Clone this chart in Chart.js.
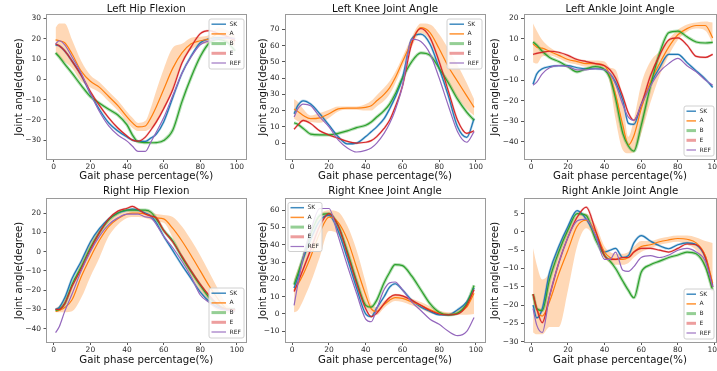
<!DOCTYPE html>
<html><head><meta charset="utf-8">
<script src="https://cdn.jsdelivr.net/npm/chart.js@4/dist/chart.umd.min.js"></script>
<style>
html,body{margin:0;padding:0;background:#fff;}
#wrap{position:relative;width:717px;height:371px;overflow:hidden;background:#fff;}
#wrap canvas{position:absolute;}
</style></head><body><div id="wrap"></div>
<script>
// ---- data ----
const phase = [1,3,6,10,15,20,25,30,35,40,43,46,50,53,56,60,65,70,75,80,85,90,95,99];
const xTicks = [0,20,40,60,80,100];
const seriesNames = ['SK','A','B','E','REF'];

// Left Hip Flexion
const lhYTicks = [-30,-20,-10,0,10,20,30];
const lhSK  = [17,16.5,14,9,2,-7,-15,-21.5,-25.5,-28.5,-30,-30.5,-30.6,-29,-27,-21,-9,3,11.5,18,20,20.5,20.5,20];
const lhA   = [19.4,19,18,12.5,4,-1,-4,-8.5,-13,-18.5,-21.5,-23.5,-23,-19,-13.5,-5,5.5,13,17.5,19,20,22.5,21,19];
const lhB   = [13,11,7.5,3,-3,-8.5,-11.8,-14.8,-17.6,-22.5,-27.5,-30.8,-31.2,-31.3,-31.2,-30.2,-25,-11,1,11.2,18,19.7,18,14];
const lhE   = [17.5,16.5,14,9,2,-6,-13,-19,-24,-28,-30,-30.5,-28.5,-25,-21,-14.5,-5,8,16,22.5,24,22.5,21,19];
const lhREF = [17.5,19,17,11,3,-7,-16,-23,-27.5,-30.5,-33,-35.5,-35.5,-31,-26,-19,-8,3,11,17,19,20,20.5,20];
const lhALow  = [13.4,10.5,8.5,5.5,-1,-4,-6.5,-11,-15.5,-21,-24,-25.5,-25.5,-24,-21.5,-15,-4.5,8.5,14.5,17,18,19.5,18,16];
const lhAHigh = [25.4,27.5,27.5,19.5,9,2,-1.5,-6,-10.5,-16,-19,-21.5,-20.5,-14,-5.5,5,15.5,17.5,20.5,21,22,25.5,24,22];

// Left Knee Joint Angle
const lkYTicks = [0,10,20,30,40,50,60,70];
const lkSK  = [18,23,26,24,18,11,4,-0.5,0,4,7,10,15,21,28,40,64,67,61,46,29,10,3.5,15];
const lkA   = [21,19.5,17,15,15.5,18,21,21.5,21.5,22,23,26,30,34,40,50,62,71,68,58,47,38,29,22];
const lkB   = [12.5,11.5,9,5.5,5,5,6,7.5,9.5,11,13,16,20,24,30,40,50,55.5,54,46,37,27,19,14];
const lkE   = [8.5,11,14,12,7.5,5,3,1,0,0.5,1.5,4,9,14,22,35,61,70.5,65,50,32,14,6,7.5];
const lkREF = [16,21,24,23,16,10,2,-3,-5.5,-4.5,-3,0,6,12,20,35,64,62.5,55,40,23,7,0.5,7];
const lkALow  = [15,13.5,13,13,12.5,15.5,19.5,20.5,20.5,20,20,22.5,26,30,36.5,47,59,67.5,63,49,36,28,21,17];
const lkAHigh = [27,25.5,21,17,18.5,20.5,22.5,22.5,22.5,24,26,29.5,34,38,43.5,53,65,73.5,73,67,58,48,37,27];

// Left Ankle Joint Angle
const laYTicks = [-40,-30,-20,-10,0,10,20];
const laSK  = [-12,-7,-4.5,-3.5,-3,-3,-4,-4.5,-4.5,-5,-7,-11,-20,-31,-31.5,-22,-12,-4,2.5,2.5,-1.5,-5.5,-9.5,-13.5];
const laA   = [7.5,6,5.5,4,2,0,-1,-2,-2,-3,-8,-17,-32,-41.5,-37,-24,-11,-2,6,12,15,16.5,16.5,10.5];
const laB   = [8.5,7,4,1,-1,-3.5,-6,-4.5,-3.5,-5,-9,-19,-36,-42,-44.5,-32,-13,3,13,13.8,11,8.5,8,8.3];
const laE   = [2.5,3,3.5,4,3.5,2,0,-1,-2,-3,-5,-9,-18,-26,-29.5,-22,-8,2,9.5,10.5,7,1.5,1,2.5];
const laREF = [-12.5,-11,-7,-4,-3,-3.5,-5,-5,-4.5,-5,-7,-12,-22,-28,-29.5,-22,-13,-6,-2,0.5,-3,-6,-10,-12.5];
const laALow  = [-1.5,-2,1.5,2,0.5,-1.5,-2.5,-3.5,-3.5,-5,-12,-29,-44,-45.5,-45,-36,-21,-8,2,9.5,13.5,15,14,8];
const laAHigh = [17.5,14,9.5,6,3.5,1.5,0.5,-0.5,-0.5,-1,-4,-5,-20,-37.5,-29,-12,-1,4,10,14.5,17,18,18.5,18];

// Right Hip Flexion
const rhYTicks = [-40,-30,-20,-10,0,10,20];
const rhSK  = [-30,-29,-24,-14,-5,5,12,17,20,21.5,22,21.5,20,18.5,15,8,0.5,-7,-14,-21,-26,-29,-30,-30];
const rhA   = [-31,-30.5,-29,-25,-13,-3,6,13,17,19.5,20,20,19.5,18.5,17.5,17,12,5.5,-2,-10,-18,-25,-30,-30.5];
const rhB   = [-30.5,-30,-27,-17,-8,2,10,16.5,20,21.5,21.5,21.5,21.5,20.5,17,11,5.5,-3,-10.5,-17.5,-24,-28,-30,-30];
const rhE   = [-30,-30,-27,-18,-9,1,10,17,21,22.5,23.5,22,19.5,18.5,17.5,11,5,-2.5,-10,-17,-23,-28,-30,-30];
const rhREF = [-42,-39,-31,-22,-10,0,8,14,17.5,19.5,19.5,19.5,18,17.5,14,8,2,-5,-13,-22.5,-26.5,-29.5,-30.5,-31];
const rhALow  = [-31.5,-31.5,-31.5,-31,-24,-13,-3,8,14,17.5,18,18,17.5,16.5,15.5,15,7,-4,-13,-21,-27,-31,-32,-31.5];
const rhAHigh = [-29.5,-28,-24,-18,-5,5,12,17,19.5,21,22,22,21.5,20.5,19.5,19,18,13,6,-2,-11,-20,-28,-29.5];

// Right Knee Joint Angle
const rkYTicks = [-10,0,10,20,30,40,50,60];
const rkSK  = [15,21,32,43,54,57,48,32,15,0,-1.5,3.5,10,15.5,17.5,14,8,4,1.5,-0.5,-0.5,2.5,7,15];
const rkA   = [14,17,23,33,47,56,53,43,27,11,3,1.5,5.5,8,9.5,9,7,5,2.5,0.5,-0.3,0.5,4,12];
const rkB   = [17,23,33,46,57,58,51,36,19,5,4,8,18,24,28.5,28,22,14,6,1,-0.5,0.5,6,16.5];
const rkE   = [13,18,26,37,51,58,51,35,18,3,-1.5,0.5,6,9.5,11,10.5,8,5,2,0,-0.5,0,5,14];
const rkREF = [5,17,33,48,61,61,45,28,12,-3,-4.5,3,14,18,18.5,14,7,2,-3,-6,-10,-12.5,-10,-2];
const rkALow  = [1,2,8,18,33,48,46,33,16,4,0,-0.5,3.5,6,7.5,7,5,3,0.5,-0.5,-0.5,-0.5,-0.5,0];
const rkAHigh = [20,26,34,44,57,60,59,51,37,18,6,4,7.5,10,11.5,11,9,7,4.5,2,1,2.5,8,16];

// Right Ankle Joint Angle
const raYTicks = [-30,-25,-20,-15,-10,-5,0,5];
const raSK  = [-20,-23.5,-21,-11,-4,1.5,5.8,3.5,-1,-5.5,-5,-4.5,-7,-6.5,-3,-1,-2.5,-3.8,-4.6,-3.5,-3,-3.5,-7,-15];
const raA   = [-17,-21,-23,-19,-11.5,-5,1.5,3.2,0,-5.5,-7,-7.5,-7.5,-7,-5.5,-4,-3.5,-2.7,-2.2,-1.8,-2,-3,-6.5,-14];
const raB   = [-17,-21,-21.5,-13,-5.5,0.5,5,4.5,-2,-6.5,-8,-10,-13.5,-16,-18,-11,-9,-8,-7,-6.3,-5.5,-6,-9.5,-16];
const raE   = [-17,-21,-24.8,-17.5,-8.5,-1.5,4,6.8,0.5,-6.5,-7.5,-7.5,-7,-7,-5.5,-4.5,-4.5,-5,-5.5,-4.5,-3.3,-3.5,-7,-15];
const raREF = [-21,-25.5,-27.5,-17.5,-8.5,-1.5,3,3.5,-1,-7.5,-7.5,-5.5,-10.5,-10.8,-9.5,-7,-6.5,-7,-6.3,-5,-4.5,-5.5,-8,-15];
const raALow  = [-27.5,-28,-28,-26,-26,-16,-4,1,-2,-7,-8.5,-9,-9,-8.5,-7,-5.5,-4.5,-3.5,-3,-2.7,-3.5,-5,-10,-17];
const raAHigh = [-4.5,-9,-13,-11,-4,1.5,4.5,5,2,-4,-5.5,-6,-6,-5.5,-4,-2.5,-2.5,-1.8,-1.3,-1,-1,-1.5,-2.5,-3];

// ---- styling / layout ----
const FF = '"DejaVu Sans", "Liberation Sans", sans-serif';
const COLORS = {SK:'#1f77b4', A:'#ff7f0e', B:'#2ca02c', E:'#d62728', REF:'#9467bd'};
const HALO = {SK:{w:2.4,a:0.3}, B:{w:3.2,a:0.35}, E:{w:2.2,a:0.25}};
const LEGSTYLE = {SK:{w:1.5,a:0.85}, A:{w:1.5,a:0.85}, B:{w:3,a:0.5}, E:{w:3,a:0.45}, REF:{w:1.2,a:0.9}};
function rgba(hex,a){const n=parseInt(hex.slice(1),16);return `rgba(${n>>16},${(n>>8)&255},${n&255},${a})`;}
const fmt = v => v < 0 ? '\u2212' + Math.abs(v) : String(v);

const panels = [
 {title:'Left Hip Flexion', cx:0, cy:0, cw:248, ch:185, yw:46.5, xh:26, padR:2, xmax:104.95, ymin:-39.3, ymax:31.7, yTicks:lhYTicks,
  s:{SK:lhSK,A:lhA,B:lhB,E:lhE,REF:lhREF}, lo:lhALow, hi:lhAHigh, tT:2.76, tB:0, xtP:2.4, ytP:12.9, leg:{x:209,y:19,w:35,h:50}},
 {title:'Left Knee Joint Angle', cx:248, cy:0, cw:240, ch:185, yw:37, xh:26, padR:3, xmax:104.95, ymin:-9.8, ymax:78.8, yTicks:lkYTicks,
  s:{SK:lkSK,A:lkA,B:lkB,E:lkE,REF:lkREF}, lo:lkALow, hi:lkAHigh, tT:2.76, tB:0, xtP:2.4, ytP:9.6, leg:{x:447,y:19,w:35,h:50}},
 {title:'Left Ankle Joint Angle', cx:487, cy:0, cw:230, ch:185, yw:37, xh:26, padR:1, xmax:100.8, ymin:-48.3, ymax:21.6, yTicks:laYTicks,
  s:{SK:laSK,A:laA,B:laB,E:laE,REF:laREF}, lo:laALow, hi:laAHigh, tT:2.76, tB:0, xtP:2.4, ytP:2.6, leg:{x:684,y:106,w:30,h:50}},
 {title:'Right Hip Flexion', cx:0, cy:185, cw:248, ch:186, yw:46.5, xh:29, padR:2, xmax:104.95, ymin:-46.9, ymax:27.3, yTicks:rhYTicks,
  s:{SK:rhSK,A:rhA,B:rhB,E:rhE,REF:rhREF}, lo:rhALow, hi:rhAHigh, tT:0.2, tB:1.56, xtP:4.6, ytP:12.9, leg:{x:209,y:288,w:35,h:50}},
 {title:'Right Knee Joint Angle', cx:248, cy:185, cw:240, ch:186, yw:37, xh:29, padR:3, xmax:104.95, ymin:-16.2, ymax:66.5, yTicks:rkYTicks,
  s:{SK:rkSK,A:rkA,B:rkB,E:rkE,REF:rkREF}, lo:rkALow, hi:rkAHigh, tT:0.2, tB:1.56, xtP:4.6, ytP:9.6, leg:{x:288,y:202.5,w:34,h:49}},
 {title:'Right Ankle Joint Angle', cx:487, cy:185, cw:230, ch:186, yw:37, xh:29, padR:1, xmax:100.8, ymin:-30.1, ymax:9.0, yTicks:raYTicks,
  s:{SK:raSK,A:raA,B:raB,E:raE,REF:raREF}, lo:raALow, hi:raAHigh, tT:0.2, tB:1.56, xtP:4.6, ytP:2.6, leg:{x:684,y:289,w:30,h:50}}
];

const framePlugin = {
  id:'frame',
  afterDatasetsDraw(chart){
    const {ctx, chartArea:a} = chart;
    ctx.save();
    ctx.strokeStyle = '#9a9a9a'; ctx.lineWidth = 1;
    const l = Math.floor(a.left)+0.5, t = Math.floor(a.top)+0.5;
    const r = Math.floor(a.right)+0.5, b = Math.floor(a.bottom)+0.5;
    ctx.strokeRect(l, t, r-l, b-t);
    ctx.restore();
  }
};

const legendPlugin = {
  id:'mplLegend',
  afterDraw(chart, args, o){
    if(!o || !o.rect) return;
    const ctx = chart.ctx, L = o.rect;
    const x = L.x - o.ox, y = L.y - o.oy;
    ctx.save();
    ctx.beginPath();
    const r = 2;
    ctx.moveTo(x+r, y); ctx.lineTo(x+L.w-r, y); ctx.quadraticCurveTo(x+L.w, y, x+L.w, y+r);
    ctx.lineTo(x+L.w, y+L.h-r); ctx.quadraticCurveTo(x+L.w, y+L.h, x+L.w-r, y+L.h);
    ctx.lineTo(x+r, y+L.h); ctx.quadraticCurveTo(x, y+L.h, x, y+L.h-r);
    ctx.lineTo(x, y+r); ctx.quadraticCurveTo(x, y, x+r, y); ctx.closePath();
    ctx.fillStyle = 'rgba(255,255,255,0.85)'; ctx.fill();
    ctx.strokeStyle = '#d0d0d0'; ctx.lineWidth = 1; ctx.stroke();
    const tx = x + L.w - 14.5;
    ctx.font = '6px ' + FF; ctx.textBaseline = 'middle'; ctx.textAlign = 'left';
    seriesNames.forEach((nm, i) => {
      const cyy = y + 5.2 + i*9.7;
      const st = LEGSTYLE[nm];
      ctx.strokeStyle = rgba(COLORS[nm], st.a); ctx.lineWidth = st.w;
      ctx.beginPath(); ctx.moveTo(x+2.5, cyy); ctx.lineTo(tx-3.5, cyy); ctx.stroke();
      ctx.fillStyle = '#262626'; ctx.fillText(nm, tx, cyy);
    });
    ctx.restore();
  }
};

const wrap = document.getElementById('wrap');
const pts = arr => phase.map((x,i) => ({x, y: arr[i]}));

panels.forEach(p => {
  const cv = document.createElement('canvas');
  cv.width = p.cw; cv.height = p.ch;
  cv.style.left = p.cx+'px'; cv.style.top = p.cy+'px';
  cv.style.width = p.cw+'px'; cv.style.height = p.ch+'px';
  wrap.appendChild(cv);
  const base = {pointRadius:0, pointHoverRadius:0, cubicInterpolationMode:'monotone', fill:false};
  const ds = [];
  ds.push(Object.assign({}, base, {label:'A upper', data:pts(p.hi), borderColor:'rgba(0,0,0,0)', borderWidth:0.01,
    fill:'+1', backgroundColor:'rgba(255,127,14,0.3)', order:30}));
  ds.push(Object.assign({}, base, {label:'A lower', data:pts(p.lo), borderColor:'rgba(0,0,0,0)', borderWidth:0.01, order:31}));
  ['SK','B','E'].forEach((nm, k) => {
    ds.push(Object.assign({}, base, {label:nm+' spread', data:pts(p.s[nm]), borderColor:rgba(COLORS[nm], HALO[nm].a),
      borderWidth:HALO[nm].w, order:20+k}));
  });
  seriesNames.forEach((nm, k) => {
    ds.push(Object.assign({}, base, {label:nm, data:pts(p.s[nm]), borderColor:COLORS[nm], borderWidth:1.2, order:5-k}));
  });
  new Chart(cv, {
    type:'line',
    data:{datasets:ds},
    options:{
      responsive:false, maintainAspectRatio:false, animation:false, devicePixelRatio:1,
      events:[],
      layout:{padding:{left:0, top:0, right:p.padR, bottom:0}},
      plugins:{
        legend:{display:false}, tooltip:{enabled:false},
        title:{display:true, text:p.title, fullSize:false, color:'#111',
          font:{family:FF, size:10.2, weight:'normal', lineHeight:1.2}, padding:{top:p.tT, bottom:p.tB}},
        mplLegend:{rect:p.leg, ox:p.cx, oy:p.cy}
      },
      scales:{
        x:{type:'linear', min:-3.95, max:p.xmax,
          afterBuildTicks: s => { s.ticks = xTicks.map(v => ({value:v})); },
          afterFit: s => { s.height = p.xh; s.paddingLeft = 0; s.paddingRight = 0; },
          ticks:{autoSkip:false, maxRotation:0, minRotation:0, padding:0.3, color:'#2a2a2a', font:{family:FF, size:7.5, lineHeight:1.2}, callback: v => fmt(v)},
          grid:{display:true, drawOnChartArea:false, drawTicks:true, tickLength:3, color:'#555'},
          border:{display:false},
          title:{display:true, text:'Gait phase percentage(%)', color:'#111', font:{family:FF, size:10.2, lineHeight:1.2}, padding:{top:0, bottom:p.xtP}}
        },
        y:{type:'linear', min:p.ymin, max:p.ymax,
          afterBuildTicks: s => { s.ticks = p.yTicks.map(v => ({value:v})); },
          afterFit: s => { s.width = p.yw; s.paddingTop = 0; s.paddingBottom = 0; },
          ticks:{autoSkip:false, padding:2.5, color:'#2a2a2a', font:{family:FF, size:7.5, lineHeight:1.2}, callback: v => fmt(v)},
          grid:{display:true, drawOnChartArea:false, drawTicks:true, tickLength:3, color:'#555'},
          border:{display:false},
          title:{display:true, text:'Joint angle(degree)', color:'#111', font:{family:FF, size:10.2, lineHeight:1.2}, padding:{top:p.ytP, bottom:0}}
        }
      }
    },
    plugins:[framePlugin, legendPlugin]
  });
});
</script>
</body></html>
